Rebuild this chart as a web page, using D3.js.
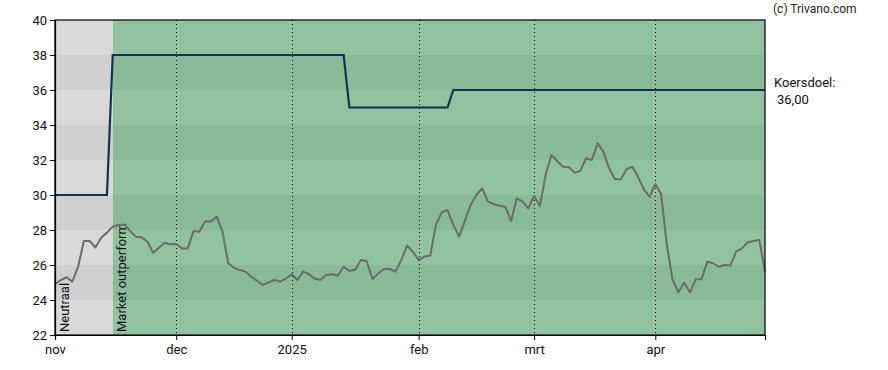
<!DOCTYPE html>
<html>
<head>
<meta charset="utf-8">
<script src="https://cdn.jsdelivr.net/npm/d3@7"></script>
<style>
  body { margin: 0; background: #fff; }
  text { font-family: Roboto, "Liberation Sans", sans-serif; }
</style>
</head>
<body>
<div id="chart"></div>
<script>
// month labels and the trading-day index where each month starts
var monthLabels = ["nov", "dec", "2025", "feb", "mrt", "apr"];
var monthStart = [0, 21, 41, 63, 83, 104];

// closing price per trading day (nov 2024 - apr 2025)
var prices = [
  24.9, 25.14, 25.3, 25.05, 25.9, 27.37, 27.37, 27.0, 27.56, 27.85,
  28.19, 28.29, 28.32, 27.96, 27.62, 27.58, 27.33, 26.7, 26.99, 27.27,
  27.18, 27.2, 26.95, 26.95, 27.94, 27.9, 28.48, 28.48, 28.76, 27.94,
  26.1, 25.85, 25.71, 25.62, 25.33, 25.1, 24.86, 25.01, 25.14, 25.05,
  25.22, 25.47, 25.14, 25.62, 25.47, 25.22, 25.16, 25.43, 25.47, 25.39,
  25.9, 25.66, 25.73, 26.29, 26.21, 25.2, 25.52, 25.77, 25.77, 25.62,
  26.29, 27.12, 26.76, 26.29, 26.48, 26.53, 28.32, 29.01, 29.14, 28.29,
  27.62, 28.51, 29.43, 30.0, 30.38, 29.62, 29.47, 29.39, 29.33, 28.51,
  29.81, 29.62, 29.24, 29.94, 29.37, 31.14, 32.29, 31.94, 31.62, 31.6,
  31.28, 31.37, 32.1, 32.0, 32.95, 32.48, 31.52, 30.91, 30.88, 31.47,
  31.62, 31.05, 30.34, 29.9, 30.63, 30.06, 27.14, 25.14, 24.44, 24.99,
  24.44, 25.18, 25.18, 26.19, 26.1, 25.9, 26.0, 25.97, 26.76, 26.95,
  27.3, 27.37, 27.43, 25.62
];

// price target (koersdoel) steps
var targetIdx = [0, 9, 10, 50, 51, 68, 69, 123];
var targetVal = [30, 30, 38, 38, 35, 35, 36, 36];

// analyst rating zones
var zoneLabels = ["Neutraal", "Market outperform"];
var zoneStart = [0, 10];

var yTicks = [22, 24, 26, 28, 30, 32, 34, 36, 38, 40];

var width = 888, height = 370;
var margin = {top: 20, right: 123, bottom: 35, left: 55};
var innerW = width - margin.left - margin.right;
var innerH = height - margin.top - margin.bottom;
var lastIdx = prices.length - 1;

var zoneColors = [
  {light: "#d9d9d9", dark: "#d0d0d0"},
  {light: "#91c3a1", dark: "#8abb99"}
];

var x = d3.scaleLinear().domain([0, lastIdx]).range([0, innerW]);
var y = d3.scaleLinear().domain([22, 40]).range([innerH, 0]);

var svg = d3.select("#chart").append("svg")
  .attr("width", width)
  .attr("height", height);

var g = svg.append("g")
  .attr("transform", "translate(" + margin.left + "," + margin.top + ")");

// zone backgrounds with alternating horizontal bands
var bands = d3.range(yTicks.length - 1);
zoneLabels.forEach(function(lbl, zi) {
  var x0 = x(zoneStart[zi]);
  var x1 = zi + 1 < zoneStart.length ? x(zoneStart[zi + 1]) : innerW;
  g.selectAll(".band" + zi)
    .data(bands)
    .enter()
    .append("rect")
    .attr("x", x0)
    .attr("width", x1 - x0)
    .attr("y", function(b) { return y(yTicks[b + 1]); })
    .attr("height", function(b) { return y(yTicks[b]) - y(yTicks[b + 1]); })
    .attr("fill", function(b) { return b % 2 ? zoneColors[zi].dark : zoneColors[zi].light; });
});

// dotted month lines
g.selectAll(".vgrid")
  .data(monthStart.slice(1))
  .enter()
  .append("line")
  .attr("x1", function(d) { return Math.round(x(d)) + 0.5; })
  .attr("x2", function(d) { return Math.round(x(d)) + 0.5; })
  .attr("y1", 0)
  .attr("y2", innerH)
  .attr("stroke", "#000")
  .attr("stroke-width", 1)
  .attr("stroke-dasharray", "1,3");

// rating labels, rotated
g.selectAll(".zlabel")
  .data(zoneLabels)
  .enter()
  .append("text")
  .attr("transform", function(d, i) {
    return "translate(" + (x(zoneStart[i]) + 13.5) + "," + (innerH - 3) + ") rotate(-90)";
  })
  .attr("font-size", 13)
  .attr("fill", "#111")
  .text(function(d) { return d; });

// price line
var priceLine = d3.line()
  .x(function(d, i) { return x(i); })
  .y(function(d) { return y(d); });

g.append("path")
  .datum(prices)
  .attr("d", priceLine)
  .attr("fill", "none")
  .attr("stroke", "#6b6b6b")
  .attr("stroke-width", 2)
  .attr("stroke-linejoin", "round");

// target line
var targetLine = d3.line()
  .x(function(d, i) { return x(targetIdx[i]); })
  .y(function(d) { return y(d); });

g.append("path")
  .datum(targetVal)
  .attr("d", targetLine)
  .attr("fill", "none")
  .attr("stroke", "#0d3552")
  .attr("stroke-width", 2.2);

// frame
g.append("rect")
  .attr("x", 0).attr("y", 0)
  .attr("width", innerW).attr("height", innerH)
  .attr("fill", "none")
  .attr("stroke", "#000")
  .attr("stroke-width", 1.2);

// axes
var yAxis = d3.axisLeft(y).tickValues(yTicks).tickSize(5).tickPadding(3);
var gy = g.append("g").call(yAxis);

var xAxis = d3.axisBottom(x)
  .tickValues(monthStart)
  .tickFormat(function(d, i) { return monthLabels[i]; })
  .tickSize(5)
  .tickPadding(5);
var gx = g.append("g").attr("transform", "translate(0," + innerH + ")").call(xAxis);

[gx, gy].forEach(function(ax) {
  ax.select(".domain").attr("stroke", "#000").attr("stroke-width", 1.2);
  ax.selectAll(".tick line").attr("stroke", "#000");
  ax.selectAll(".tick text")
    .attr("font-family", "Roboto, 'Liberation Sans', sans-serif")
    .attr("font-size", 13)
    .attr("fill", "#111");
});

// texts right of the chart
svg.append("text")
  .attr("x", 773).attr("y", 13)
  .attr("font-size", 12)
  .attr("fill", "#222")
  .text("(c) Trivano.com");

svg.append("text")
  .attr("x", 774).attr("y", 87)
  .attr("font-size", 13)
  .attr("fill", "#111")
  .text("Koersdoel:");

svg.append("text")
  .attr("x", 777).attr("y", 104)
  .attr("font-size", 13)
  .attr("fill", "#111")
  .text(d3.format(".2f")(targetVal[targetVal.length - 1]).replace(".", ","));
</script>
</body>
</html>
